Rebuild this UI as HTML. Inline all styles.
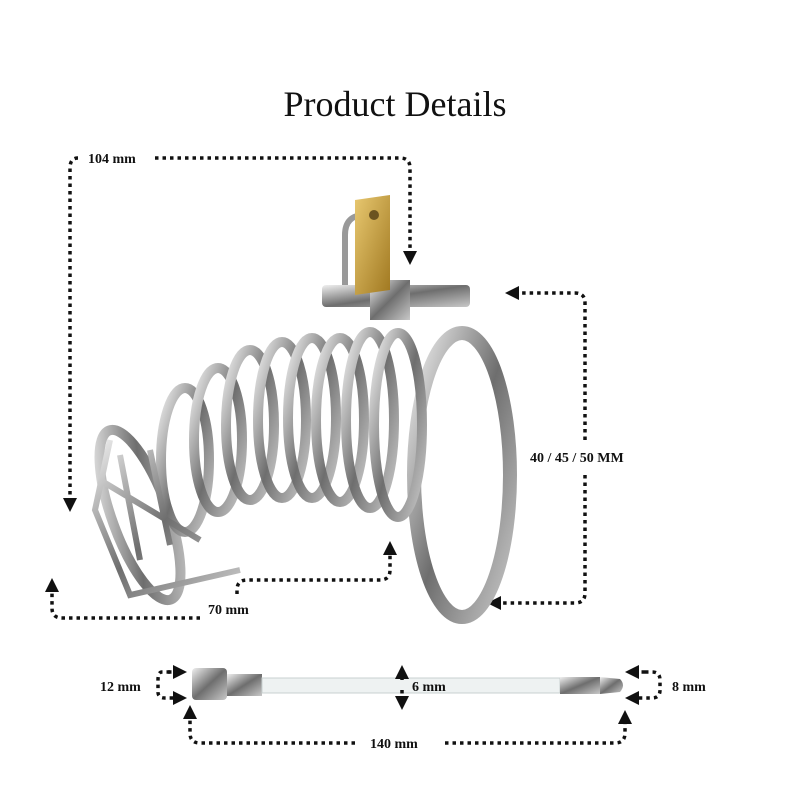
<!DOCTYPE html>
<html><head><meta charset="utf-8"><style>
html,body{margin:0;padding:0;background:#fff;}
svg{display:block}
text{font-family:"Liberation Serif",serif;fill:#111}
.d{fill:none;stroke:#111;stroke-width:3.5;stroke-dasharray:3.5 4;stroke-linecap:butt}
.lb{font-size:14px;font-weight:bold}
</style></head><body>
<svg width="800" height="800" viewBox="0 0 800 800" xmlns="http://www.w3.org/2000/svg">
<defs>
<marker id="a" viewBox="0 0 10 10" refX="5" refY="5" markerWidth="4" markerHeight="4" orient="auto-start-reverse">
<path d="M0,0 L10,5 L0,10 z" fill="#111"/></marker>
<linearGradient id="m" x1="0" y1="0" x2="1" y2="1">
<stop offset="0" stop-color="#f0f0f0"/><stop offset=".5" stop-color="#6e6e6e"/><stop offset="1" stop-color="#c8c8c8"/></linearGradient>
<linearGradient id="g" x1="0" y1="0" x2="1" y2="1">
<stop offset="0" stop-color="#e8c870"/><stop offset="1" stop-color="#a07820"/></linearGradient>
</defs>
<text x="395" y="116" text-anchor="middle" font-size="36">Product Details</text>

<text x="88" y="163" class="lb">104 mm</text>
<path class="d" d="M78,158 Q70,158 70,168 L70,505" marker-end="url(#a)"/>
<path class="d" d="M155,158 L400,158 Q410,158 410,168 L410,258" marker-end="url(#a)"/>

<text x="530" y="462" class="lb">40 / 45 / 50 MM</text>
<path class="d" d="M585,440 L585,303 Q585,293 575,293 L512,293" marker-end="url(#a)"/>
<path class="d" d="M585,475 L585,593 Q585,603 575,603 L494,603" marker-end="url(#a)"/>

<text x="208" y="614" class="lb">70 mm</text>
<path class="d" d="M200,618 L62,618 Q52,618 52,608 L52,585" marker-end="url(#a)"/>
<path class="d" d="M237,594 L237,590 Q237,580 247,580 L380,580 Q390,580 390,570 L390,548" marker-end="url(#a)"/>

<g fill="none" stroke="url(#m)" stroke-width="10">
<ellipse cx="462" cy="475" rx="48" ry="142" stroke-width="14"/>
<ellipse cx="140" cy="515" rx="28" ry="90" transform="rotate(-20 140 515)"/>
<ellipse cx="185" cy="460" rx="24" ry="72"/>
<ellipse cx="218" cy="440" rx="24" ry="72"/>
<ellipse cx="250" cy="425" rx="24" ry="75"/>
<ellipse cx="282" cy="420" rx="24" ry="78"/>
<ellipse cx="312" cy="418" rx="24" ry="80"/>
<ellipse cx="340" cy="420" rx="24" ry="82"/>
<ellipse cx="370" cy="420" rx="24" ry="88"/>
<ellipse cx="398" cy="425" rx="24" ry="92"/>
<path d="M110,440 L95,510 L130,595 L240,570 M120,455 L140,560 M150,450 L170,545 M100,480 L200,540" stroke-width="6"/>
</g>
<path d="M345,300 L345,235 Q345,215 365,215" fill="none" stroke="#999" stroke-width="6"/>
<rect x="322" y="285" width="148" height="22" rx="4" fill="url(#m)"/>
<rect x="370" y="280" width="40" height="40" fill="url(#m)"/>
<path d="M355,200 L390,195 L390,290 L355,295 Z" fill="url(#g)"/>
<circle cx="374" cy="215" r="5" fill="#6b5320"/>

<text x="100" y="691" class="lb">12 mm</text>
<path class="d" d="M170,672 L162,672 Q158,672 158,680 L158,692 Q158,698 165,698 L180,698" marker-end="url(#a)"/>
<path class="d" d="M168,672 L180,672" marker-end="url(#a)"/>
<rect x="192" y="668" width="35" height="32" rx="4" fill="url(#m)"/>
<rect x="227" y="674" width="35" height="22" fill="url(#m)"/>
<rect x="262" y="678" width="298" height="15" fill="#eef2f2" stroke="#c8d0d0"/>
<rect x="560" y="677" width="40" height="17" fill="url(#m)"/>
<path d="M600,677 L620,679 Q626,685 620,692 L600,694 Z" fill="url(#m)"/>
<path class="d" d="M402,680 L402,672" marker-end="url(#a)"/>
<path class="d" d="M402,690 L402,703" marker-end="url(#a)"/>
<text x="412" y="691" class="lb">6 mm</text>
<text x="672" y="691" class="lb">8 mm</text>
<path class="d" d="M645,672 L652,672 Q660,672 660,680 L660,690 Q660,698 652,698 L632,698" marker-end="url(#a)"/>
<path class="d" d="M645,672 L632,672" marker-end="url(#a)"/>
<text x="370" y="748" class="lb">140 mm</text>
<path class="d" d="M355,743 L200,743 Q190,743 190,733 L190,712" marker-end="url(#a)"/>
<path class="d" d="M445,743 L615,743 Q625,743 625,733 L625,717" marker-end="url(#a)"/>
</svg>
</body></html>
